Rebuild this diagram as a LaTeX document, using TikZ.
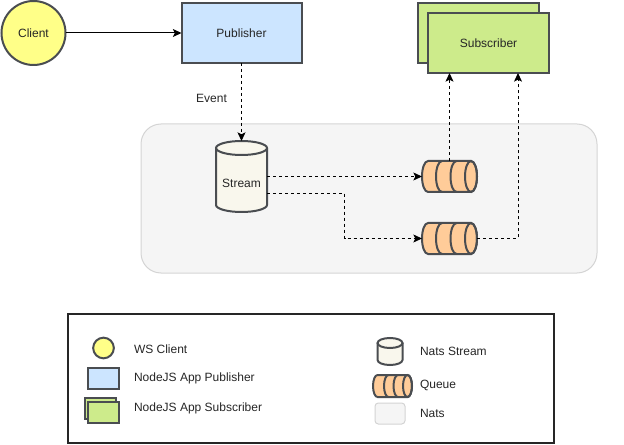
\documentclass[tikz,border=0pt]{standalone}
\usepackage{fontspec}
\setmainfont{Liberation Sans}
\usetikzlibrary{arrows.meta,calc}
\definecolor{edgeC}{HTML}{4A4D51}
\definecolor{clientF}{HTML}{FFFF88}
\definecolor{pubF}{HTML}{CCE5FF}
\definecolor{subF}{HTML}{CDEB8B}
\definecolor{streamF}{HTML}{F9F7ED}
\definecolor{queueF}{HTML}{FFCC99}
\definecolor{natsF}{HTML}{F5F5F5}
\definecolor{natsD}{HTML}{D4D4D4}
\tikzset{
  x=0.75pt,y=-0.75pt,
  every node/.style={font=\fontsize{9}{11}\selectfont,text=black!85,inner sep=0pt,outer sep=0pt},
  solidshape/.style={draw=edgeC,line width=1.5pt,line join=miter},
  clientnode/.style={solidshape,circle,fill=clientF},
  pubnode/.style={solidshape,rectangle,fill=pubF},
  subnode/.style={solidshape,rectangle,fill=subF},
  natsarea/.style={draw=natsD,line width=0.75pt,fill=natsF,rectangle,rounded corners=#1},
  flow/.style={draw=black,line width=0.75pt,-{Stealth[length=6.5pt,width=6pt,inset=1.5pt]}},
  flowdash/.style={flow,dash pattern=on 2.25pt off 2.25pt},
  legendtext/.style={anchor=west},
  ghost/.style={rectangle,inner sep=0pt}
}
% cylinder: centre x, centre y, half width, half height, ellipse ry (all in px)
\newcommand{\drawcyl}[5]{%
  \fill[streamF] (#1-#3,#2-#4+#5) -- (#1-#3,#2+#4-#5) arc[start angle=180,end angle=0,x radius=#3,y radius=#5] -- (#1+#3,#2-#4+#5) -- cycle;
  \fill[streamF] (#1,#2-#4+#5) ellipse[x radius=#3,y radius=#5];
  \draw[solidshape,line cap=round] (#1-#3,#2-#4+#5) -- (#1-#3,#2+#4-#5) arc[start angle=180,end angle=0,x radius=#3,y radius=#5] -- (#1+#3,#2-#4+#5);
  \draw[solidshape] (#1,#2-#4+#5) ellipse[x radius=#3,y radius=#5];
}
% queue: left x, right x, top y, bottom y, end rx, band spacing (all in px)
\newcommand{\drawqueue}[6]{%
  \path[solidshape,fill=queueF,rounded corners=0pt] (#2-#5,#3) -- (#1+#5,#3) arc[start angle=-90,end angle=-270,x radius=#5,y radius=(#4-#3)/2] -- (#2-#5,#4) arc[start angle=90,end angle=-90,x radius=#5,y radius=(#4-#3)/2] -- cycle;
  \draw[solidshape] (#2-#5,{(#3+#4)/2}) ellipse[x radius=#5,y radius={(#4-#3)/2}];
  \draw[solidshape] (#2-#5-#6,#4) arc[start angle=90,end angle=270,x radius=#5,y radius=(#4-#3)/2];
  \draw[solidshape] (#2-#5-2*#6,#4) arc[start angle=90,end angle=270,x radius=#5,y radius=(#4-#3)/2];
}
\begin{document}
\begin{tikzpicture}
\useasboundingbox (0,0) rectangle (624,445);
% Nats area
\node[natsarea=15pt,minimum width=342pt,minimum height=111.75pt] (nats) at (369,198.5) {};
% main nodes
\node[clientnode,minimum size=48pt] (client) at (33.5,33) {Client};
\node[pubnode,minimum width=90pt,minimum height=45pt] (publisher) at (241.5,33) {Publisher};
\node[subnode,minimum width=90.75pt,minimum height=45pt] (subback) at (478.5,33) {};
\node[subnode,minimum width=90.75pt,minimum height=45pt] (sub) at (488.5,43) {Subscriber};
% stream and queues
\drawcyl{241.5}{176.5}{25.5}{35.5}{7}
\node[ghost,minimum width=38.25pt,minimum height=53.25pt] (stream) at (241.5,176.5) {};
\node at (241.5,183) (streamlabel) {Stream};
\drawqueue{422}{477}{161}{192}{6}{14.5}
\drawqueue{422}{477}{223}{254}{6}{14.5}
\node[ghost,minimum width=41.25pt,minimum height=23.25pt] (q1) at (449.5,176.5) {};
\node[ghost,minimum width=41.25pt,minimum height=23.25pt] (q2) at (449.5,238.5) {};
% connectors
\coordinate (bend) at (344.5,215);
\coordinate (subin) at (518,73);
\draw[flow] (client) -- (publisher);
\draw[flowdash] (publisher) -- (stream);
\draw[flowdash] (stream.east) -- (q1.west);
\draw[flowdash] ([yshift=-12.4pt]stream.east) -| (bend) |- (q2.west);
\draw[flowdash] (q1.north) -- (q1.north |- sub.south);
\draw[flowdash] (q2.east) -| (subin);
\node (eventlabel) at (211.5,98) {Event};
% legend
\node[draw=black!85,line width=1.5pt,fill=white,minimum width=364.5pt,minimum height=96.75pt] (legend) at (311,378.5) {};
\node[clientnode,minimum size=15.5pt] (lgclient) at (103.5,348) {};
\node[pubnode,minimum width=23.25pt,minimum height=15.75pt] (lgpub) at (103.5,378.5) {};
\node[subnode,minimum width=23.25pt,minimum height=15.75pt] (lgsubback) at (100.5,408.5) {};
\node[subnode,minimum width=23.25pt,minimum height=15.75pt] (lgsub) at (103.5,412.5) {};
\node[legendtext] (t1) at (134,349) {WS Client};
\node[legendtext] (t2) at (134,378.5) {NodeJS App Publisher};
\node[legendtext] (t3) at (134,408.5) {NodeJS App Subscriber};
\drawcyl{390}{351.5}{12.5}{13.5}{5}
\drawqueue{373}{412}{375}{397}{4.5}{9.5}
\node[natsarea=2.5pt,minimum width=22.5pt,minimum height=15.75pt] (lgnats) at (390,413.5) {};
\node[legendtext] (t4) at (420,351.5) {Nats Stream};
\node[legendtext] (t5) at (420,385.5) {Queue};
\node[legendtext] (t6) at (420,413) {Nats};
\end{tikzpicture}
\end{document}
